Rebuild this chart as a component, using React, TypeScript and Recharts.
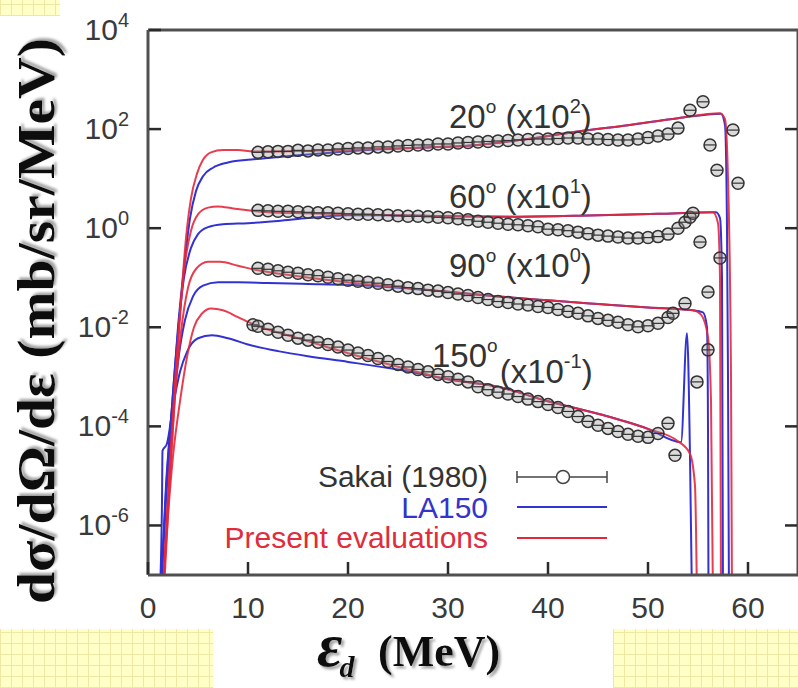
import React from 'react';
import { ComposedChart, Line, Scatter, XAxis, YAxis, ReferenceDot } from 'recharts';

const RED = '#e4283c';
const BLUE = '#3232d2';
const AXIS = '#505050';
const TICK = '#2a2a2a';
const INK = '#3a3a3a';
const SANS = '"Liberation Sans", Arial, Helvetica, sans-serif';
const SERIF = '"Liberation Serif", "Times New Roman", serif';

const xTicks = [0, 10, 20, 30, 40, 50, 60];
const xTopTicks = [10, 20, 30, 40, 50, 60];
const yTicks = [1e-6, 1e-4, 1e-2, 1, 1e2, 1e4];
const yRightTicks = [1e-6, 1e-4, 1e-2, 1, 1e2];

// [energy MeV, value] pairs, already scaled by the factor shown on the chart
const present20: [number, number][] = [[1.6, 5e-8], [2.2, 1e-5], [2.8, 1e-3], [3.3, 3.2e-2], [3.8, 0.63], [4.3, 4.0], [4.9, 12.6], [5.5, 24], [6.3, 34], [7.5, 38], [9, 38], [10.5, 35.5], [13, 35.5], [17, 37], [22, 39], [27, 42], [33, 48], [38, 63], [43, 89], [48, 120], [53, 166], [57.2, 209], [57.7, 158], [58.0, 10], [58.3, 1e-3], [58.4, 3e-8]];
const la150_20: [number, number][] = [[1.3, 5e-8], [1.8, 6.3e-6], [2.4, 2.5e-4], [3.0, 1e-2], [3.6, 0.16], [4.2, 1.58], [4.8, 5.6], [5.5, 11.2], [6.5, 16.6], [7.9, 21], [10, 24], [12, 26], [15, 29.5], [18, 33], [22, 38], [27, 42], [33, 48], [38, 63], [43, 89], [48, 120], [53, 166], [57.3, 205], [57.7, 120], [57.9, 1], [58.0, 1e-3], [58.1, 3e-8]];

const present60: [number, number][] = [[1.5, 5e-8], [2.1, 1e-5], [2.7, 8e-4], [3.2, 2e-2], [3.7, 0.2], [4.3, 0.89], [5.0, 1.9], [6.0, 2.6], [7.0, 2.75], [8.5, 2.5], [10, 2.3], [12, 2.1], [16, 2.0], [22, 1.86], [30, 1.74], [36, 1.7], [44, 1.8], [51, 1.95], [56.5, 2.1], [57.0, 1.26], [57.2, 0.1], [57.3, 3e-8]];
const la150_60: [number, number][] = [[1.3, 5e-8], [1.8, 5e-6], [2.4, 2.5e-4], [3.0, 8e-3], [3.6, 0.1], [4.3, 0.4], [5.0, 0.76], [6.0, 1.05], [7.5, 1.2], [10, 1.26], [13, 1.4], [16, 1.6], [20, 1.82], [24, 1.82], [30, 1.74], [36, 1.7], [44, 1.8], [51, 1.95], [56.8, 2.1], [57.2, 1.6], [57.4, 0.1], [57.5, 3e-8]];

const present90: [number, number][] = [[1.5, 5e-8], [2.1, 6.3e-6], [2.7, 4e-4], [3.3, 8e-3], [4.0, 6.3e-2], [4.8, 0.15], [6.0, 0.21], [7.2, 0.21], [9, 0.174], [11, 0.141], [15, 0.107], [20, 8.1e-2], [25, 6.5e-2], [30, 5.2e-2], [35, 4.2e-2], [40, 3.5e-2], [45, 2.95e-2], [50, 2.5e-2], [54.5, 2.2e-2], [55.3, 1.8e-2], [56.0, 6.3e-3], [56.3, 3.2e-4], [56.5, 3e-8]];
const la150_90: [number, number][] = [[1.3, 5e-8], [1.8, 3.2e-6], [2.4, 1.26e-4], [3.0, 2e-3], [3.7, 1.4e-2], [4.5, 4.2e-2], [5.5, 6.9e-2], [7, 8.1e-2], [9, 8.1e-2], [12, 7.8e-2], [16, 7.5e-2], [20, 7.2e-2], [25, 6.3e-2], [30, 5.2e-2], [35, 4.2e-2], [40, 3.5e-2], [45, 2.95e-2], [50, 2.5e-2], [54.5, 2.2e-2], [55.5, 2.0e-2], [55.9, 1e-2], [56.0, 1e-4], [56.05, 3e-8]];

const present150: [number, number][] = [[1.5, 5e-8], [2.0, 1.6e-6], [2.5, 2.5e-5], [3.2, 3.2e-4], [3.9, 2.5e-3], [4.6, 1e-2], [5.4, 1.9e-2], [6.3, 2.4e-2], [7.5, 2.2e-2], [9, 1.6e-2], [10.5, 1.15e-2], [15, 6e-3], [20, 3e-3], [25, 1.6e-3], [30, 8.9e-4], [35, 6.3e-4], [40, 3.2e-4], [45, 1.8e-4], [50, 8.9e-5], [53, 5e-5], [54.2, 2.8e-5], [54.7, 6.3e-6], [54.9, 3e-8]];
const la150_150: [number, number][] = [[1.2, 5e-8], [1.4, 3.2e-6], [1.45, 3.2e-5], [1.9, 4.5e-5], [2.5, 2.5e-4], [3.2, 1.26e-3], [3.9, 3.2e-3], [5.0, 6e-3], [6.4, 6.9e-3], [8, 6e-3], [10, 4.5e-3], [13, 3.3e-3], [16, 2.6e-3], [20, 2e-3], [25, 1.4e-3], [30, 8.9e-4], [35, 6.3e-4], [40, 3.2e-4], [45, 1.8e-4], [50, 8.9e-5], [53.3, 4.8e-5], [53.9, 7.6e-3], [54.2, 2.5e-5], [54.4, 3e-8]];

const sakai20: [number, number][] = [[11, 33.9], [12, 34.7], [13, 35.5], [14, 35.5], [15, 37.2], [16, 36.3], [17, 38], [18, 38], [19, 39.8], [20, 40.7], [21, 41.7], [22, 41.7], [23, 43.7], [24, 43.7], [25, 45.7], [26, 46.8], [27, 47.9], [28, 47.9], [29, 50.1], [30, 50.1], [31, 52.5], [32, 53.7], [33, 55], [34, 56.2], [35, 57.5], [36, 58.9], [37, 60.3], [38, 61.7], [39, 63.1], [40, 63.1], [41, 64.6], [42, 66.1], [43, 66.1], [44, 63.1], [45, 63.1], [46, 61.7], [47, 60.3], [48, 60.3], [49, 63.1], [50, 67.6], [51, 72.4], [52, 79.4], [53, 104.7], [54.2, 240], [55.5, 355], [56.2, 47.9], [56.9, 14.8], [58.5, 95.5], [59.0, 8.1]];
const sakai60: [number, number][] = [[11, 2.29], [12, 2.24], [13, 2.19], [14, 2.19], [15, 2.14], [16, 2.09], [17, 2.04], [18, 2.04], [19, 2.0], [20, 1.95], [21, 1.91], [22, 1.91], [23, 1.86], [24, 1.82], [25, 1.78], [26, 1.74], [27, 1.74], [28, 1.7], [29, 1.66], [30, 1.62], [31, 1.55], [32, 1.48], [33, 1.38], [34, 1.32], [35, 1.26], [36, 1.2], [37, 1.17], [38, 1.12], [39, 1.07], [40, 0.955], [41, 0.93], [42, 0.891], [43, 0.832], [44, 0.776], [45, 0.724], [46, 0.692], [47, 0.661], [48, 0.631], [49, 0.631], [50, 0.646], [51, 0.676], [52, 0.759], [53, 1.0], [53.7, 1.32], [54.2, 1.66], [54.5, 2.0], [55.2, 0.525], [57.2, 0.251]];
const sakai90: [number, number][] = [[11, 0.155], [12, 0.148], [13, 0.138], [14, 0.129], [15, 0.123], [16, 0.115], [17, 0.11], [18, 0.102], [19, 0.0955], [20, 0.0891], [21, 0.0851], [22, 0.0813], [23, 0.0776], [24, 0.0724], [25, 0.0676], [26, 0.0631], [27, 0.0603], [28, 0.0562], [29, 0.0537], [30, 0.0501], [31, 0.0468], [32, 0.0437], [33, 0.0398], [34, 0.0363], [35, 0.0331], [36, 0.0316], [37, 0.0295], [38, 0.0282], [39, 0.0263], [40, 0.0251], [41, 0.0229], [42, 0.0209], [43, 0.0191], [44, 0.017], [45, 0.0151], [46, 0.0138], [47, 0.0126], [48, 0.0112], [49, 0.0102], [50, 0.0107], [51, 0.012], [52, 0.0158], [52.5, 0.0191], [53.7, 0.0302], [54.9, 7.9e-4], [56, 3.5e-3], [56, 0.0513]];
const sakai150: [number, number][] = [[10.5, 0.0112], [11, 0.0105], [12, 0.00912], [13, 0.00794], [14, 0.00692], [15, 0.00603], [16, 0.0055], [17, 0.00501], [18, 0.00447], [19, 0.00398], [20, 0.00347], [21, 0.00302], [22, 0.00269], [23, 0.00234], [24, 0.00204], [25, 0.00178], [26, 0.00158], [27, 0.00141], [28, 0.00126], [29, 0.00112], [30, 0.001], [31, 8.9e-4], [32, 7.9e-4], [33, 6.3e-4], [34, 5.5e-4], [35, 4.9e-4], [36, 4.5e-4], [37, 4.0e-4], [38, 3.55e-4], [39, 3.16e-4], [40, 2.75e-4], [41, 2.4e-4], [42, 2.0e-4], [43, 1.58e-4], [44, 1.26e-4], [45, 1.05e-4], [46, 9.1e-5], [47, 7.9e-5], [48, 6.9e-5], [49, 6.3e-5], [50, 6.0e-5], [51, 7.2e-5], [52, 1.15e-4], [52.7, 2.6e-5]];

// angle labels: [energy, value, angle, exponent]
const angleLabels: [number, number, string, string][] = [
  [30.1, 105, '20', '2'],
  [30.1, 2.6, '60', '1'],
  [30.1, 0.102, '90', '0'],
];

const toPts = (a: [number, number][]) => a.map(([x, y]) => ({ x, y }));

const laSeries = [la150_150, la150_90, la150_60, la150_20];
const presentSeries = [present150, present90, present60, present20];
const sakaiSeries = [sakai150, sakai90, sakai60, sakai20];

const BottomTick = ({ x, y, payload }: any) => (
  <g>
    <line x1={x} y1={y - 1} x2={x} y2={y - 13} stroke={TICK} strokeWidth={2.5} />
    <text x={x} y={y + 43} textAnchor="middle" fontSize={30} fill={INK} fontFamily={SANS}>{payload.value}</text>
  </g>
);

const TopTick = ({ x, y }: any) => <line x1={x} y1={y + 1} x2={x} y2={y + 13} stroke={TICK} strokeWidth={2.5} />;

const LeftTick = ({ x, y, payload }: any) => {
  const e = Math.round(Math.log10(payload.value));
  return (
    <g>
      <line x1={x + 1} y1={y} x2={x + 13} y2={y} stroke={TICK} strokeWidth={2.5} />
      <text x={x - 19} y={y + 10} textAnchor="end" fontSize={30} fill={INK} fontFamily={SANS}>
        10<tspan dy={-13} fontSize={20}>{e}</tspan>
      </text>
    </g>
  );
};

const RightTick = ({ x, y }: any) => <line x1={x - 1} y1={y} x2={x - 13} y2={y} stroke={TICK} strokeWidth={2.5} />;

const SakaiMarker = ({ cx, cy }: any) => (
  <g>
    <circle cx={cx} cy={cy} r={6} fill="rgba(150,150,150,0.35)" stroke="#333" strokeWidth={1.5} />
    <line x1={cx - 6} y1={cy} x2={cx + 6} y2={cy} stroke="#333" strokeWidth={1.2} />
  </g>
);

const AngleText = ({ cx, cy, angle, exp }: any) => (
  <text x={cx} y={cy} fontSize={33} fill="#333" fontFamily={SANS}>
    {angle}
    <tspan dy={-15} fontSize={19}>o</tspan>
    <tspan dy={15}> (x10</tspan>
    <tspan dy={-15} fontSize={20}>{exp}</tspan>
    <tspan dy={15}>)</tspan>
  </text>
);

const Angle150 = ({ cx, cy }: any) => (
  <text x={cx} y={cy} fontSize={33} fill="#333" fontFamily={SANS}>
    150
    <tspan dy={-15} fontSize={19}>o</tspan>
    <tspan dy={31} dx={2}>(x10</tspan>
    <tspan dy={-15} fontSize={20}>-1</tspan>
    <tspan dy={15}>)</tspan>
  </text>
);

const patch: React.CSSProperties = {
  position: 'absolute',
  background:
    'repeating-linear-gradient(0deg, #efe7a6 0 1px, transparent 1px 11px), repeating-linear-gradient(90deg, #efe7a6 0 1px, transparent 1px 11px), #ffffc6',
};

const App: React.FC = () => (
  <div style={{ position: 'absolute', left: 0, top: 0, width: 798, height: 688, overflow: 'hidden', background: '#fff' }}>
    <div style={{ ...patch, left: 0, top: 0, width: 60, height: 16 }} />
    <div style={{ ...patch, left: 0, top: 629, width: 213, height: 59 }} />
    <div style={{ ...patch, left: 613, top: 629, width: 185, height: 59 }} />

    <div style={{ position: 'absolute', left: 0, top: 0 }}>
      <ComposedChart width={800} height={688} margin={{ top: 29, right: 1, bottom: 112, left: 147 }}>
        <XAxis
          type="number"
          dataKey="x"
          domain={[0, 65]}
          ticks={xTicks}
          interval={0}
          allowDataOverflow
          height={1}
          tickSize={0}
          tickMargin={0}
          tickLine={false}
          tick={<BottomTick />}
          axisLine={{ stroke: AXIS, strokeWidth: 3 }}
        />
        <XAxis
          xAxisId="top"
          orientation="top"
          type="number"
          domain={[0, 65]}
          ticks={xTopTicks}
          interval={0}
          allowDataOverflow
          height={1}
          tickSize={0}
          tickMargin={0}
          tickLine={false}
          tick={<TopTick />}
          axisLine={{ stroke: AXIS, strokeWidth: 3 }}
        />
        <YAxis
          dataKey="y"
          scale="log"
          domain={[1e-7, 1e4]}
          ticks={yTicks}
          interval={0}
          allowDataOverflow
          width={1}
          tickSize={0}
          tickMargin={0}
          tickLine={false}
          tick={<LeftTick />}
          axisLine={{ stroke: AXIS, strokeWidth: 3 }}
        />
        <YAxis
          yAxisId="right"
          orientation="right"
          scale="log"
          domain={[1e-7, 1e4]}
          ticks={yRightTicks}
          interval={0}
          allowDataOverflow
          width={1}
          tickSize={0}
          tickMargin={0}
          tickLine={false}
          tick={<RightTick />}
          axisLine={{ stroke: AXIS, strokeWidth: 3 }}
        />

        {laSeries.map((s, i) => (
          <Line key={`la${i}`} data={toPts(s)} dataKey="y" type="monotone" stroke={BLUE} strokeWidth={2} dot={false} isAnimationActive={false} />
        ))}
        {presentSeries.map((s, i) => (
          <Line key={`pr${i}`} data={toPts(s)} dataKey="y" type="monotone" stroke={RED} strokeOpacity={0.9} strokeWidth={2} dot={false} isAnimationActive={false} />
        ))}
        {sakaiSeries.map((s, i) => (
          <Scatter key={`sk${i}`} data={toPts(s)} dataKey="y" shape={(p: any) => <SakaiMarker cx={p.cx} cy={p.cy} />} isAnimationActive={false} />
        ))}

        {angleLabels.map(([x, y, a, e]) => (
          <ReferenceDot key={a} x={x} y={y} r={0} ifOverflow="visible" shape={(p: any) => <AngleText cx={p.cx} cy={p.cy} angle={a} exp={e} />} />
        ))}
        <ReferenceDot x={28.4} y={1.55e-3} r={0} ifOverflow="visible" shape={(p: any) => <Angle150 cx={p.cx} cy={p.cy} />} />
      </ComposedChart>
    </div>

    <svg width={798} height={688} style={{ position: 'absolute', left: 0, top: 0, pointerEvents: 'none' }}>
      <defs>
        <filter id="shadow" x="-10%" y="-10%" width="120%" height="120%">
          <feDropShadow dx={2.5} dy={2.5} stdDeviation={0.8} floodColor="#8c8c8c" floodOpacity={0.8} />
        </filter>
      </defs>
      {/* y title */}
      <text transform="translate(54,321) rotate(-90)" textAnchor="middle" fontFamily={SERIF} fontWeight="bold" fontSize={52} textLength={566} lengthAdjust="spacingAndGlyphs" fill="#111" filter="url(#shadow)">
        dσ/dΩ/dε (mb/sr/MeV)
      </text>

      {/* x title */}
      <text x={317} y={666} fontFamily={SERIF} fontWeight="bold" fill="#111" filter="url(#shadow)">
        <tspan fontStyle="italic" fontSize={62}>ε</tspan>
        <tspan fontStyle="italic" fontSize={30} dy={11} dx={-3}>d</tspan>
        <tspan x={378} dy={-11} fontSize={44}>(MeV)</tspan>
      </text>

      {/* legend */}
      <g fontFamily={SANS} fontSize={30}>
        <text x={488} y={487} textAnchor="end" fill="#333">Sakai (1980)</text>
        <line x1={517} y1={477} x2={607} y2={477} stroke="#444" strokeWidth={1.5} />
        <line x1={517} y1={471} x2={517} y2={483} stroke="#444" strokeWidth={1.5} />
        <line x1={607} y1={471} x2={607} y2={483} stroke="#444" strokeWidth={1.5} />
        <circle cx={563} cy={477} r={6.5} fill="#fff" stroke="#444" strokeWidth={1.5} />
        <text x={488} y={518} textAnchor="end" fill="#3434c8">LA150</text>
        <line x1={517} y1={507} x2={607} y2={507} stroke={BLUE} strokeWidth={2} />
        <text x={488} y={548} textAnchor="end" fill="#e02c3c">Present evaluations</text>
        <line x1={517} y1={538} x2={607} y2={538} stroke={RED} strokeWidth={2} />
      </g>
    </svg>
  </div>
);

export default App;
